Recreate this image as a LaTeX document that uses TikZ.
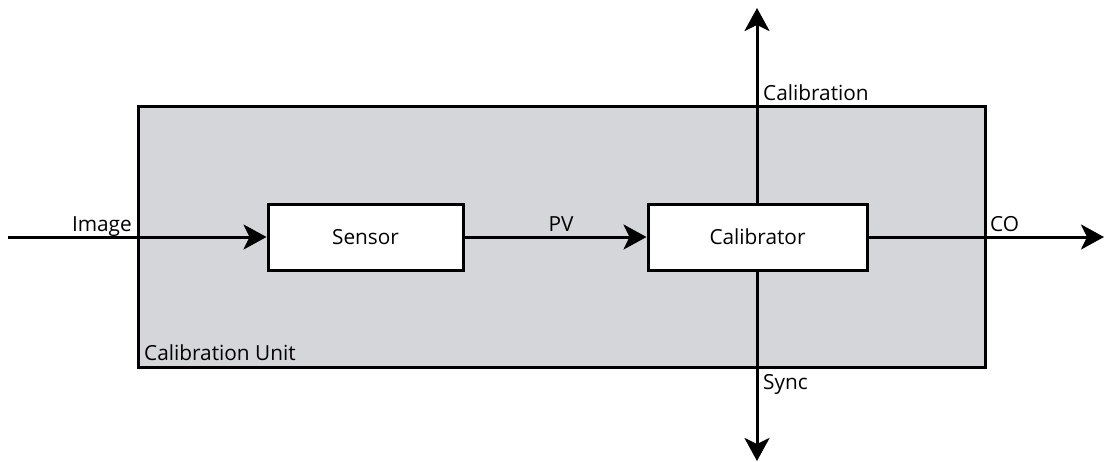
\documentclass[tikz,border=0pt]{standalone}
\usepackage{fontspec}
\setmainfont{Open Sans}
\usetikzlibrary{arrows.meta}
\begin{document}
\begin{tikzpicture}[x=1pt,y=-1pt,
  every node/.style={font=\fontsize{20.8}{22}\selectfont},
  blk/.style={draw,line width=3pt,fill=white,minimum height=66pt,inner sep=0pt},
  conn/.style={line width=3pt,-{Stealth[length=23pt,width=25pt,inset=6pt]}},
  lbl/.style={inner sep=0pt}]
\useasboundingbox (0,0) rectangle (1104,461);
\node[draw,line width=3pt,fill={rgb,255:red,213;green,214;blue,217},minimum width=847pt,minimum height=261pt,inner sep=0pt] (unit) at (561.5,236.5) {};
\node[lbl,anchor=base west] (unitlbl) at (144,360) {Calibration Unit};
\node[blk,minimum width=195pt] (sensor) at (365.5,237) {Sensor};
\node[blk,minimum width=219pt] (calib) at (757.5,237) {Calibrator};
\coordinate (in) at (8,237);
\coordinate (out) at (1104,237);
\coordinate (top) at (757,8);
\coordinate (bot) at (757,461);
\draw[conn] (in) -- (sensor.west);
\draw[conn] (sensor.east) -- (calib.west);
\draw[conn] (calib.east) -- (out);
\draw[conn] (calib.north -| top) -- (top);
\draw[conn] (calib.south -| bot) -- (bot);
\node[lbl,anchor=base east] (limg) at (132,231.5) {Image};
\node[lbl,anchor=base] (lpv) at (561,231.5) {PV};
\node[lbl,anchor=base west] (lco) at (990,231.5) {CO};
\node[lbl,anchor=base west] (lcal) at (763,100) {Calibration};
\node[lbl,anchor=base west] (lsync) at (763,389) {Sync};
\end{tikzpicture}
\end{document}
